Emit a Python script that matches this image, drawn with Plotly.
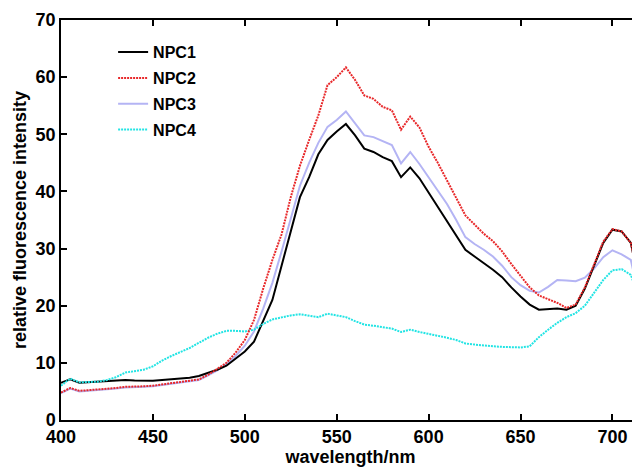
import plotly.graph_objects as go

wavelength = list(range(400, 720, 5))

npc1 = [6.5, 7.1, 6.5, 6.6, 6.7, 6.8, 6.9, 7.0, 6.9, 6.85, 6.85, 7.0, 7.1, 7.25, 7.4, 7.7,
        8.2, 8.8, 9.5, 10.7, 12.0, 13.7, 17.2, 21.0, 27.0, 33.0, 39.0, 42.5, 46.5, 49.0, 50.5, 51.8,
        49.8, 47.5, 46.9, 46.0, 45.3, 42.5, 44.2, 42.3, 39.8, 37.5, 35.0, 32.5, 29.8, 28.6, 27.5, 26.3,
        25.0, 23.2, 21.6, 20.2, 19.3, 19.4, 19.5, 19.3, 20.0, 23.0, 27.0, 31.0, 33.3, 33.0, 31.0, 23.5]

npc2 = [4.8, 5.6, 5.1, 5.2, 5.3, 5.4, 5.6, 5.8, 5.8, 5.9, 6.0, 6.2, 6.4, 6.6, 6.8, 7.1,
        7.9, 8.9, 10.0, 11.8, 14.0, 17.5, 23.0, 28.0, 32.5, 39.0, 44.5, 49.0, 53.3, 58.6, 60.0, 61.7,
        59.5, 56.8, 56.2, 54.8, 54.2, 50.8, 53.1, 51.2, 47.8, 45.0, 42.0, 38.8, 35.8, 34.2, 32.6, 31.3,
        29.5, 27.3, 25.2, 23.2, 21.8, 21.2, 20.5, 19.6, 20.2, 23.2, 27.2, 31.2, 33.4, 33.0, 31.0, 23.5]

npc3 = [4.7, 5.5, 5.0, 5.1, 5.2, 5.3, 5.5, 5.7, 5.7, 5.8, 5.9, 6.1, 6.3, 6.5, 6.7, 7.0,
        7.8, 8.7, 9.8, 11.2, 13.0, 15.5, 19.5, 24.0, 29.5, 35.5, 41.0, 45.0, 48.5, 51.3, 52.5, 54.0,
        52.0, 49.8, 49.5, 48.8, 48.1, 44.9, 46.9, 44.8, 42.5, 40.2, 37.8, 35.0, 32.0, 30.8, 29.8, 28.6,
        27.0, 25.0, 23.6, 22.6, 22.3, 23.3, 24.5, 24.4, 24.3, 24.9, 26.5, 28.5, 29.7, 29.0, 28.0, 21.0]

npc4 = [6.0, 7.25, 6.6, 6.6, 6.7, 7.0, 7.5, 8.3, 8.5, 8.8, 9.4, 10.4, 11.2, 11.9, 12.6, 13.5,
        14.4, 15.1, 15.6, 15.6, 15.5, 15.8, 16.8, 17.6, 18.0, 18.3, 18.5, 18.3, 18.0, 18.6, 18.3, 18.0,
        17.3, 16.7, 16.5, 16.3, 16.0, 15.4, 15.8, 15.4, 15.1, 14.7, 14.4, 14.0, 13.4, 13.2, 13.0, 12.9,
        12.8, 12.7, 12.7, 12.9, 14.5, 15.8, 17.0, 18.0, 18.7, 20.0, 22.2, 24.5, 26.2, 26.4, 25.4, 21.0]

series_names = ["NPC1", "NPC2", "NPC3", "NPC4"]
x_ticks = [400, 450, 500, 550, 600, 650, 700]
y_ticks = [0, 10, 20, 30, 40, 50, 60, 70]

FONT = "Liberation Sans, Arial, sans-serif"

fig = go.Figure()
styles = [
    dict(color="#000000", width=2, dash="solid"),
    dict(color="#e8282a", width=2, dash="2px,1px"),
    dict(color="#b4b4f4", width=2, dash="solid"),
    dict(color="#22e4e4", width=2, dash="2px,1px"),
]
order = [2, 0, 3, 1]  # draw purple first, then black, cyan, red on top
data = [npc1, npc2, npc3, npc4]
for i in range(4):
    fig.add_trace(go.Scatter(
        x=wavelength, y=data[i], mode="lines", name=series_names[i],
        line=styles[i], legendgroup=series_names[i], legendrank=i + 1,
    ))
fig.data = tuple(fig.data[k] for k in order)

# page body has an 8px margin; margins below compensate so the plot area
# sits at x 61..640, y 20..420 in the browser window
fig.update_layout(
    width=640, height=467,
    margin=dict(l=53, r=8, t=12, b=55),
    paper_bgcolor="white", plot_bgcolor="white",
    font=dict(family=FONT, size=16, color="black"),
    showlegend=True,
    legend=dict(
        x=0.09, y=0.962, xanchor="left", yanchor="top",
        bgcolor="rgba(0,0,0,0)", borderwidth=0,
        font=dict(family=FONT, size=16, color="black", weight="bold"),
        tracegroupgap=2,
    ),
    xaxis=dict(
        range=[400, 715], tickvals=x_ticks, ticktext=[str(v) for v in x_ticks],
        ticks="inside", ticklen=6, tickwidth=1.5, tickcolor="black",
        showline=True, linecolor="black", linewidth=1.5, mirror="ticks",
        showgrid=False, zeroline=False, automargin=False,
        tickfont=dict(family=FONT, size=18, weight="bold"),
        title=dict(text="wavelength/nm", font=dict(family=FONT, size=18, weight="bold"), standoff=0),
    ),
    yaxis=dict(
        range=[0, 70], tickvals=y_ticks, ticktext=[str(v) for v in y_ticks],
        ticks="inside", ticklen=6, tickwidth=1.5, tickcolor="black",
        showline=True, linecolor="black", linewidth=1.5, mirror=False,
        showgrid=False, zeroline=False, automargin=False,
        tickfont=dict(family=FONT, size=18, weight="bold"),
        title=dict(text="relative fluorescence intensity", font=dict(family=FONT, size=18, weight="bold"), standoff=4),
    ),
)

fig.write_html("out.html")
